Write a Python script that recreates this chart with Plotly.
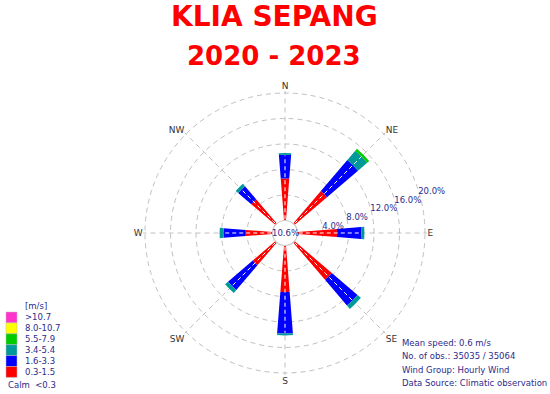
import plotly.graph_objects as go

W, H = 550, 394

# ---------------- data ----------------
directions = ["N", "NE", "E", "SE", "S", "SW", "W", "NW"]
dir_angles = [0, 45, 90, 135, 180, 225, 270, 315]
speed_classes = ["0.3-1.5", "1.6-3.3", "3.4-5.4", "5.5-7.9", "8.0-10.7", ">10.7"]
freq_03_15 = [6.6, 6.7, 6.2, 7.7, 7.3, 4.7, 4.2, 5.0]
freq_16_33 = [3.7, 6.4, 3.8, 5.3, 6.5, 5.1, 3.5, 2.7]
freq_34_54 = [0.3, 1.9, 0.5, 0.7, 0.3, 0.6, 0.6, 0.5]
freq_55_79 = [0.0, 0.4, 0.0, 0.0, 0.0, 0.0, 0.0, 0.0]
freq_80_107 = [0.0, 0.0, 0.0, 0.0, 0.0, 0.0, 0.0, 0.0]
freq_gt107 = [0.0, 0.0, 0.0, 0.0, 0.0, 0.0, 0.0, 0.0]
calm_pct = 10.6
calm_label = "Calm  <0.3"
radial_ticks = [4, 8, 12, 16, 20]
title_lines = ["KLIA SEPANG", "2020 - 2023"]
stats_lines = ["Mean speed: 0.6 m/s", "No. of obs.: 35035 / 35064",
               "Wind Group: Hourly Wind", "Data Source: Climatic observation"]

# ---------------- styles ----------------
class_colors = ["#ff0000", "#0000ff", "#009999", "#00cc00", "#ffff00", "#ff33cc"]
navy = "#2b2b8c"
grid = "#c0c0c0"
font = "DejaVu Sans"

series = [freq_03_15, freq_16_33, freq_34_54, freq_55_79, freq_80_107, freq_gt107]

# geometry: centre, pixel radius of the outer (20 %) ring, calm-circle radius
cx, cy, R20 = 285, 233, 140
hole_px = 12.5
rmax = 20.3                      # a little beyond 20 so the 20 % ring is drawn
R = hole_px + (R20 - hole_px) * rmax / 20
hole = hole_px / R


def px(x):
    return x / W


def py(y):
    return 1 - y / H


def note(text, x, y, size=8.5, color=navy, xanchor="left", yanchor="middle"):
    fig.add_annotation(text=text, x=px(x), y=py(y), xref="paper", yref="paper",
                       xanchor=xanchor, yanchor=yanchor, showarrow=False,
                       font=dict(size=size, color=color, family=font))


fig = go.Figure()
for name, vals, col in zip(speed_classes, series, class_colors):
    fig.add_trace(go.Barpolar(r=vals, theta=dir_angles, width=[9] * 8, name=name,
                              marker=dict(color=col, line=dict(width=0)),
                              showlegend=False))

totals = [sum(v) for v in zip(*series)]
for a, t in zip(dir_angles, totals):
    fig.add_trace(go.Scatterpolar(r=[0.2, t - 0.4], theta=[a, a], mode="lines",
                                  line=dict(color="white", width=1, dash="4px,3px"),
                                  showlegend=False, hoverinfo="skip"))

fig.update_layout(
    width=W, height=H, margin=dict(l=0, r=0, t=0, b=0),
    paper_bgcolor="white", plot_bgcolor="white",
    font=dict(family=font, color=navy),
    polar=dict(
        domain=dict(x=[px(cx - R), px(cx + R)], y=[py(cy + R), py(cy - R)]),
        hole=hole, bgcolor="white", barmode="stack",
        radialaxis=dict(range=[0, rmax], tickvals=radial_ticks,
                        ticktext=[f"{v:.1f}%" for v in radial_ticks],
                        angle=20, side="clockwise", tickangle=20,
                        showline=False, ticks="",
                        tickfont=dict(size=8.5, color=navy, family=font),
                        gridcolor=grid, griddash="5px,4px", gridwidth=1),
        angularaxis=dict(tickvals=dir_angles, ticktext=directions,
                         rotation=90, direction="clockwise",
                         showline=False, ticks="",
                         tickfont=dict(size=9, color="#333333", family=font),
                         gridcolor=grid, griddash="5px,4px", gridwidth=1),
    ),
)

# calm circle
fig.add_shape(type="circle", xref="paper", yref="paper",
              x0=px(cx - hole_px), x1=px(cx + hole_px),
              y0=py(cy + hole_px), y1=py(cy - hole_px),
              line=dict(color="#c8c8c8", width=1.2))
note(f"{calm_pct:.1f}%", cx, cy, xanchor="center")

# title
for txt, yy, sz in zip(title_lines, [17, 56], [28, 26]):
    note(f"<b>{txt}</b>", 274, yy, size=sz, color="#ff0000", xanchor="center")

# stats text
for i, line in enumerate(stats_lines):
    note(line, 400, 343 + i * 13.3)

# legend (manual)
sw_top, sw_h = 312, 10.9
note("[m/s]", 23, 306)
for i, (name, col) in enumerate(zip(speed_classes[::-1], class_colors[::-1])):
    y0 = sw_top + i * sw_h
    fig.add_shape(type="rect", xref="paper", yref="paper",
                  x0=px(6), x1=px(17), y0=py(y0 + sw_h), y1=py(y0),
                  fillcolor=col, line=dict(color="#bbbbbb", width=0.5))
    note(name, 23, y0 + sw_h / 2)
note(calm_label.replace("  ", "&nbsp;&nbsp;"), 6, 385)

fig.write_html("out.html", config={"displayModeBar": False},
               post_script="document.body.style.margin='0px';")
